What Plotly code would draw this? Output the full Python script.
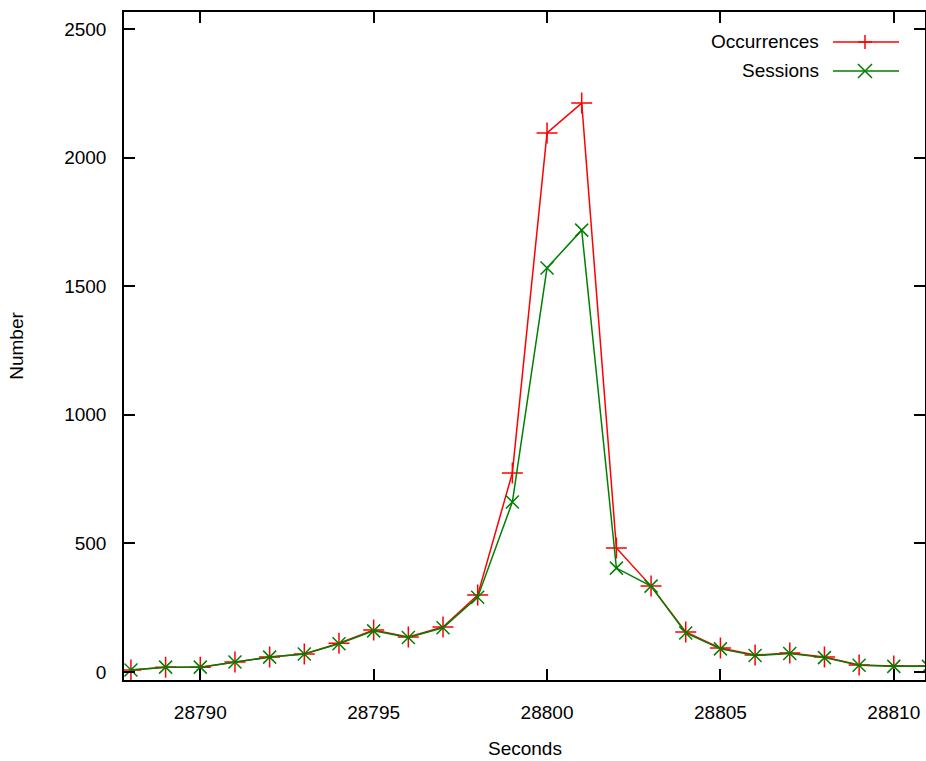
import plotly.graph_objects as go

seconds = list(range(28788, 28812))
occurrences = [8, 19, 19, 39, 58, 70, 112, 163, 136, 175, 299, 774, 2096, 2212,
               482, 334, 156, 93, 66, 74, 58, 27, 23, 23]
sessions = [8, 19, 19, 39, 58, 70, 110, 160, 134, 172, 291, 661, 1571, 1718,
            404, 334, 152, 90, 64, 72, 56, 26, 22, 22]

x_ticks = [28790, 28795, 28800, 28805, 28810]
y_ticks = [0, 500, 1000, 1500, 2000, 2500]

RED = "#ff0000"
GREEN = "#008000"
FONT = "Liberation Sans, Arial, sans-serif"
FS = 19

fig = go.Figure()
fig.add_trace(go.Scatter(
    x=seconds, y=occurrences, mode="lines+markers", name="Occurrences",
    line=dict(color=RED, width=1.5),
    marker=dict(symbol="cross-thin-open", size=15, color=RED,
                line=dict(color=RED, width=1.5)),
    cliponaxis=True, showlegend=False))
fig.add_trace(go.Scatter(
    x=seconds, y=sessions, mode="lines+markers", name="Sessions",
    line=dict(color=GREEN, width=1.5),
    marker=dict(symbol="x-thin-open", size=13, color=GREEN,
                line=dict(color=GREEN, width=1.5)),
    cliponaxis=True, showlegend=False))

# gnuplot-style legend (text left of sample), drawn in paper coords
W, H = 801.0, 668.0
def px(xp):
    return (xp - 124) / W
def py(yp):
    return (680 - yp) / H

shapes = []
annotations = []
legend_items = [("Occurrences", RED, 42, "plus"), ("Sessions", GREEN, 71, "x")]
for label, col, ypix, kind in legend_items:
    shapes.append(dict(type="line", xref="paper", yref="paper",
                       x0=px(833), x1=px(899), y0=py(ypix), y1=py(ypix),
                       line=dict(color=col, width=1.5)))
    cx, cy = 865, ypix
    h = 7
    if kind == "plus":
        path = (f"M{px(cx-h)},{py(cy)} L{px(cx+h)},{py(cy)} "
                f"M{px(cx)},{py(cy-h)} L{px(cx)},{py(cy+h)}")
    else:
        path = (f"M{px(cx-h)},{py(cy-h)} L{px(cx+h)},{py(cy+h)} "
                f"M{px(cx-h)},{py(cy+h)} L{px(cx+h)},{py(cy-h)}")
    shapes.append(dict(type="path", xref="paper", yref="paper", path=path,
                       line=dict(color=col, width=1.5)))
    annotations.append(dict(text=label, xref="paper", yref="paper",
                            x=px(821), y=py(ypix), xanchor="right",
                            yanchor="middle", showarrow=False,
                            font=dict(family=FONT, size=FS, color="black")))

# x-axis title placed like gnuplot's
annotations.append(dict(text="Seconds", xref="paper", yref="paper",
                        x=0.5, y=py(748), xanchor="center", yanchor="middle",
                        showarrow=False, borderpad=0,
                        font=dict(family=FONT, size=FS, color="black")))

axis_common = dict(showgrid=False, zeroline=False, showline=True,
                   linecolor="black", linewidth=1.5, mirror="allticks",
                   ticks="inside", ticklen=11, tickwidth=1.5, tickcolor="black",
                   automargin=False,
                   tickfont=dict(family=FONT, size=FS, color="black"))

fig.update_layout(
    width=926, height=761,
    margin=dict(l=124, r=1, t=12, b=81),
    paper_bgcolor="white", plot_bgcolor="white",
    shapes=shapes, annotations=annotations,
    xaxis=dict(range=[28787.8, 28810.9], tickvals=x_ticks,
               ticktext=[str(v) for v in x_ticks],
               ticklabelstandoff=14, **axis_common),
    yaxis=dict(range=[-31, 2566], tickvals=y_ticks,
               ticktext=[str(v) for v in y_ticks],
               title=dict(text="Number", standoff=36,
                          font=dict(family=FONT, size=FS, color="black")),
               ticklabelstandoff=12, **axis_common),
)

fig.write_html("out.html")
